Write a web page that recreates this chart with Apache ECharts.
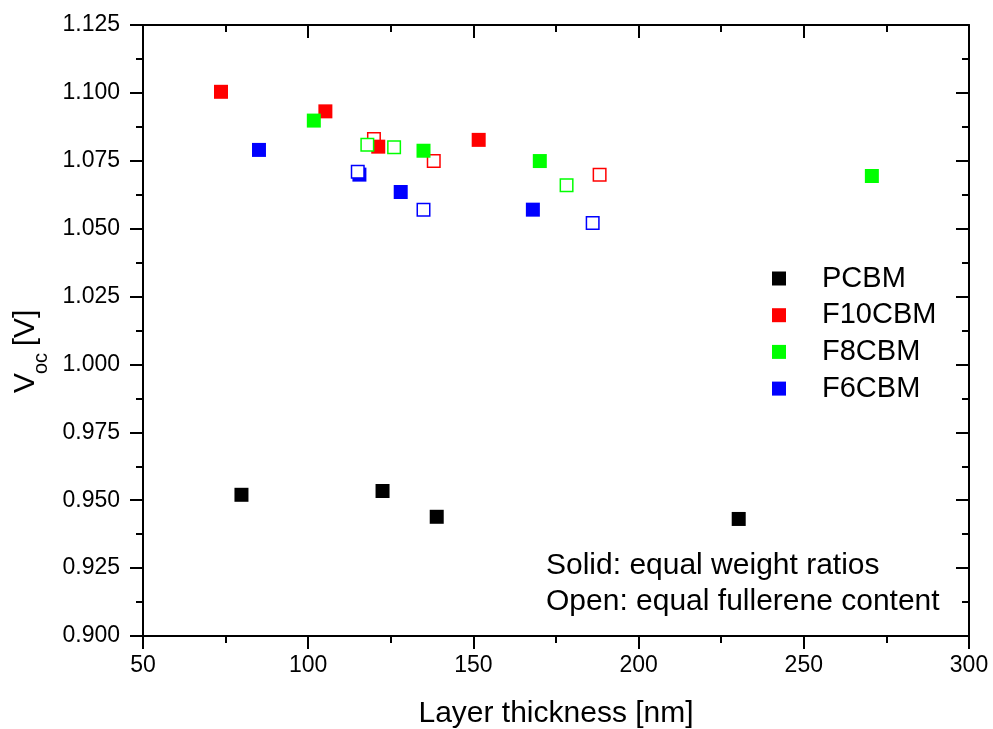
<!DOCTYPE html>
<html>
<head>
<meta charset="utf-8">
<script src="https://cdn.jsdelivr.net/npm/echarts@6/dist/echarts.min.js"></script>
<style>
html,body{margin:0;padding:0;background:#fff;}
#chart{width:993px;height:729px;}
</style>
</head>
<body>
<div id="chart"></div>
<script>
// Data
const pcbmX = [79.8, 122.5, 138.9, 230.3];
const pcbmY = [0.9520, 0.9534, 0.9439, 0.9431];
const f10SolidX = [73.6, 105.2, 121.2, 151.6];
const f10SolidY = [1.1004, 1.0932, 1.0802, 1.0827];
const f10OpenX = [119.9, 138.0, 188.2];
const f10OpenY = [1.0830, 1.0749, 1.0699];
const f8SolidX = [101.7, 134.9, 170.1, 270.6];
const f8SolidY = [1.0898, 1.0787, 1.0749, 1.0694];
const f8OpenX = [117.9, 126.0, 178.2];
const f8OpenY = [1.0809, 1.0800, 1.0660];
const f6SolidX = [85.1, 115.5, 128.0, 168.0];
const f6SolidY = [1.0790, 1.0699, 1.0635, 1.0570];
const f6OpenX = [115.0, 134.9, 186.1];
const f6OpenY = [1.0710, 1.0570, 1.0521];
const legendNames = ['PCBM', 'F10CBM', 'F8CBM', 'F6CBM'];
const xTitle = 'Layer thickness [nm]';
const noteLines = ['Solid: equal weight ratios', 'Open: equal fullerene content'];

const FONT = 'Liberation Sans, Arial, sans-serif';
function pairs(xs, ys) { return xs.map((x, i) => [x, ys[i]]); }

const chart = echarts.init(document.getElementById('chart'));

function axisBase(extra) {
  return Object.assign({
    type: 'value',
    axisLine: { show: true, onZero: false, lineStyle: { color: '#000', width: 2 } },
    axisTick: { show: true, length: 13, lineStyle: { color: '#000', width: 2 } },
    minorTick: { show: true, splitNumber: 2, length: 7, lineStyle: { color: '#000', width: 2 } },
    splitLine: { show: false },
    minorSplitLine: { show: false }
  }, extra);
}

function solid(name, color, xs, ys) {
  return {
    name: name, type: 'scatter', symbol: 'rect', symbolSize: 14,
    xAxisIndex: 0, yAxisIndex: 0,
    itemStyle: { color: color, opacity: 1 },
    data: pairs(xs, ys)
  };
}
function open(name, color, xs, ys) {
  return {
    name: name, type: 'scatter', symbol: 'rect', symbolSize: 12.5,
    xAxisIndex: 0, yAxisIndex: 0,
    itemStyle: { color: '#fff', borderColor: color, borderWidth: 1.5, opacity: 1 },
    data: pairs(xs, ys)
  };
}

const option = {
  animation: false,
  backgroundColor: '#fff',
  grid: { left: 143, right: 24, top: 25, bottom: 93, containLabel: false, outerBoundsMode: 'none' },
  xAxis: [
    axisBase({
      position: 'bottom', min: 50, max: 300, interval: 50,
      axisLabel: { show: true, color: '#000', fontSize: 23, fontFamily: FONT, margin: 18 },
      name: xTitle, nameLocation: 'middle', nameGap: 63,
      nameTextStyle: { color: '#000', fontSize: 30, fontFamily: FONT }
    }),
    axisBase({
      position: 'top', min: 50, max: 300, interval: 50,
      axisTick: { show: true, inside: true, length: 13, lineStyle: { color: '#000', width: 2 } },
      minorTick: { show: true, splitNumber: 2, length: 7, lineStyle: { color: '#000', width: 2 } },
      axisLabel: { show: false }
    })
  ],
  yAxis: [
    axisBase({
      position: 'left', min: 0.9, max: 1.125, interval: 0.025,
      axisLabel: { show: true, color: '#000', fontSize: 23, fontFamily: FONT, margin: 23,
        formatter: v => v.toFixed(3) }
    }),
    axisBase({
      position: 'right', min: 0.9, max: 1.125, interval: 0.025,
      axisTick: { show: true, inside: true, length: 13, lineStyle: { color: '#000', width: 2 } },
      minorTick: { show: true, splitNumber: 2, length: 7, lineStyle: { color: '#000', width: 2 } },
      axisLabel: { show: false }
    })
  ],
  legend: {
    data: legendNames,
    orient: 'vertical',
    left: 767, top: 259,
    itemWidth: 14, itemHeight: 14, itemGap: 7.7,
    icon: 'rect',
    textStyle: { color: '#000', fontSize: 29, fontFamily: FONT, padding: [0, 0, 0, 31] }
  },
  graphic: [
    { type: 'text', x: 26, y: 383, rotation: Math.PI / 2,
      style: { text: 'V', fill: '#000', font: '30px ' + FONT, align: 'center', verticalAlign: 'middle' } },
    { type: 'text', x: 41, y: 363.5, rotation: Math.PI / 2,
      style: { text: 'oc', fill: '#000', font: '20px ' + FONT, align: 'center', verticalAlign: 'middle' } },
    { type: 'text', x: 26, y: 328, rotation: Math.PI / 2,
      style: { text: '[V]', fill: '#000', font: '30px ' + FONT, align: 'center', verticalAlign: 'middle' } },
    { type: 'text', x: 546, y: 566,
      style: { text: noteLines[0], fill: '#000', font: '30px ' + FONT, align: 'left', verticalAlign: 'middle' } },
    { type: 'text', x: 546, y: 602,
      style: { text: noteLines[1], fill: '#000', font: '30px ' + FONT, align: 'left', verticalAlign: 'middle' } }
  ],
  series: [
    solid('PCBM', '#000000', pcbmX, pcbmY),
    open('F10CBM open', '#ff0000', f10OpenX, f10OpenY),
    solid('F10CBM', '#ff0000', f10SolidX, f10SolidY),
    solid('F8CBM', '#00ff00', f8SolidX, f8SolidY),
    open('F8CBM open', '#00ff00', f8OpenX, f8OpenY),
    solid('F6CBM', '#0000ff', f6SolidX, f6SolidY),
    open('F6CBM open', '#0000ff', f6OpenX, f6OpenY)
  ]
};
chart.setOption(option);
</script>
</body>
</html>
